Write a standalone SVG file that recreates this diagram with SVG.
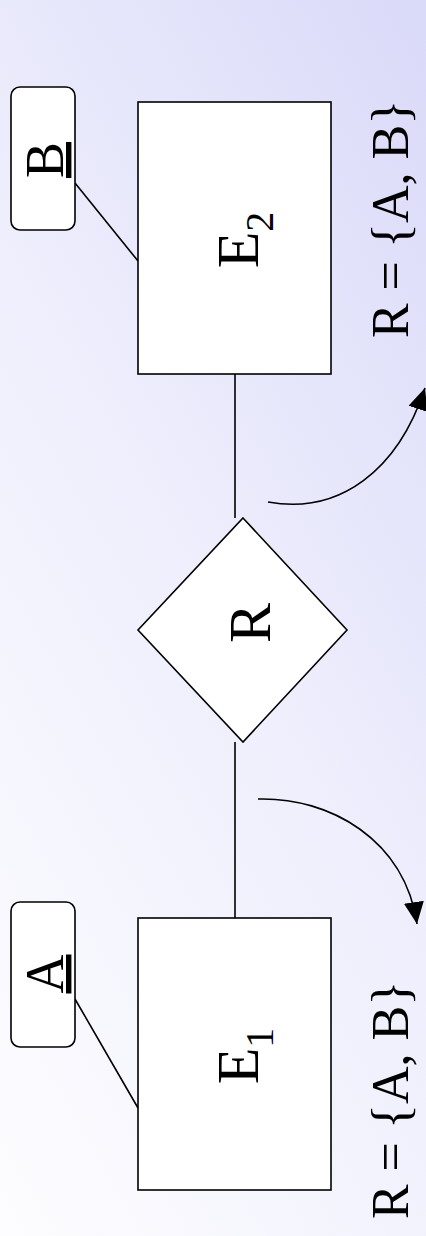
<svg xmlns="http://www.w3.org/2000/svg" width="426" height="1236" viewBox="0 0 426 1236">
  <defs>
    <linearGradient id="bg" gradientUnits="userSpaceOnUse" x1="0" y1="1236" x2="846" y2="744">
      <stop offset="0" stop-color="#fdfdff"/>
      <stop offset="0.5" stop-color="#efeffd"/>
      <stop offset="1" stop-color="#dadaf9"/>
    </linearGradient>
    <marker id="arrow" markerUnits="userSpaceOnUse" markerWidth="24" markerHeight="22" refX="22" refY="10" orient="auto">
      <path d="M0,0 L22,10 L0,20 z" fill="#000"/>
    </marker>
  </defs>
  <style>
    .shape { fill: #fff; stroke: #000; stroke-width: 1.6; }
    .conn { fill: none; stroke: #000; stroke-width: 1.6; }
    .lbl { font-family: "Liberation Serif", "Times New Roman", serif; fill: #000; text-anchor: middle; }
  </style>
  <rect x="0" y="0" width="426" height="1236" fill="url(#bg)"/>

  <g id="connectors">
    <line class="conn" x1="75" y1="183" x2="138" y2="261"/>
    <line class="conn" x1="75" y1="999" x2="138" y2="1108"/>
    <line class="conn" x1="235" y1="374" x2="235" y2="518"/>
    <line class="conn" x1="235" y1="742" x2="235" y2="918"/>
    <path class="conn" d="M268,502 C340,515 398,470 425,388" marker-end="url(#arrow)"/>
    <path class="conn" d="M258,799 C330,797 405,840 417,924" marker-end="url(#arrow)"/>
  </g>

  <g id="attrB">
    <rect class="shape" x="11" y="87" width="64" height="143" rx="9"/>
    <text class="lbl" font-size="54" text-decoration="underline" transform="translate(63,160) rotate(-90)">B</text>
  </g>

  <g id="E2">
    <rect class="shape" x="138" y="102" width="193" height="272"/>
    <text class="lbl" font-size="60" transform="translate(258,240) rotate(-90)">E<tspan font-size="40" dy="15">2</tspan></text>
  </g>

  <g id="R">
    <polygon class="shape" points="243,518 347,630 243,742 138,630"/>
    <text class="lbl" font-size="60" transform="translate(270,623) rotate(-90)">R</text>
  </g>

  <g id="E1">
    <rect class="shape" x="138" y="918" width="193" height="272"/>
    <text class="lbl" font-size="60" transform="translate(258,1056) rotate(-90)">E<tspan font-size="40" dy="15">1</tspan></text>
  </g>

  <g id="attrA">
    <rect class="shape" x="11" y="902" width="64" height="145" rx="9"/>
    <text class="lbl" font-size="54" text-decoration="underline" transform="translate(63,974) rotate(-90)">A</text>
  </g>

  <g id="label-top">
    <text class="lbl" font-size="52" transform="translate(408,219) rotate(-90)">R = {A, B}</text>
  </g>
  <g id="label-bottom">
    <text class="lbl" font-size="52" transform="translate(408,1100) rotate(-90)">R = {A, B}</text>
  </g>
</svg>
